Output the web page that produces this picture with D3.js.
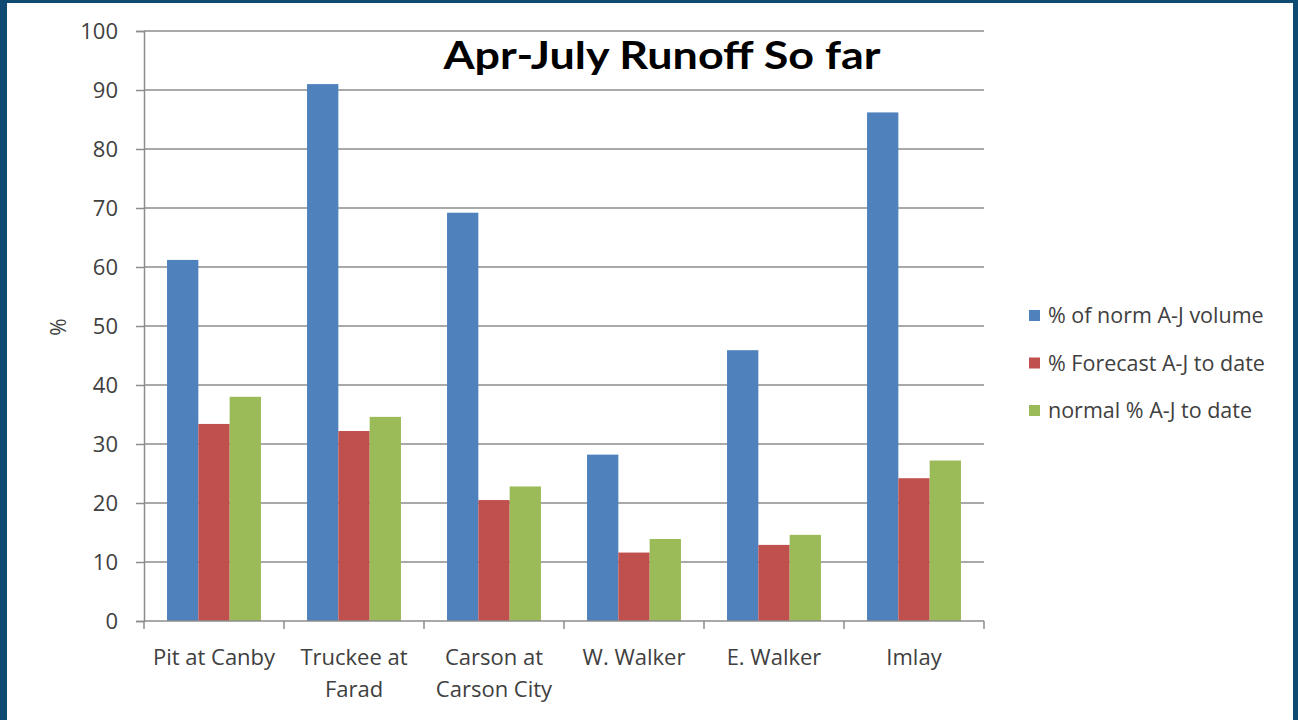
<!DOCTYPE html>
<html lang="en">
<head>
    <meta charset="UTF-8">
    <title>Apr-July Runoff So far</title>
    <script src="https://d3js.org/d3.v7.min.js"></script>
    <style>
        html, body {
            margin: 0;
            padding: 0;
            overflow: hidden;
            background: #0f4a73;
        }
        #frame {
            position: absolute;
            left: 7px;
            top: 3px;
            width: 1286px;
            height: 717px;
            background: #ffffff;
        }
        svg text {
            font-family: "Open Sans", "DejaVu Sans", sans-serif;
            fill: #404040;
        }
    </style>
</head>
<body>
    <div id="frame"></div>
    <svg id="chart" width="1298" height="720" style="position:absolute;left:0;top:0"></svg>

    <script>
        // station names (line breaks as in the original)
        const stations = [
            ["Pit at Canby"],
            ["Truckee at", "Farad"],
            ["Carson at", "Carson City"],
            ["W. Walker"],
            ["E. Walker"],
            ["Imlay"]
        ];
        const seriesNames = ["% of norm A-J volume", "% Forecast A-J to date", "normal % A-J to date"];
        const normVolume = [61.2, 91.0, 69.2, 28.2, 45.9, 86.2];
        const forecastToDate = [33.4, 32.2, 20.5, 11.6, 12.9, 24.2];
        const normalToDate = [38.0, 34.6, 22.8, 13.9, 14.6, 27.2];
        const yTicks = [0, 10, 20, 30, 40, 50, 60, 70, 80, 90, 100];
        const colors = ["#4f81bd", "#c0504d", "#9bbb59"];

        const series = [normVolume, forecastToDate, normalToDate];
        const svg = d3.select("#chart");
        const margin = {left: 144, top: 31, right: 314, bottom: 99};
        const width = 1298 - margin.left - margin.right,
              height = 720 - margin.top - margin.bottom;
        const g = svg.append("g").attr("transform", `translate(${margin.left},${margin.top})`);

        const x = d3.scaleBand().domain(d3.range(stations.length)).range([0, width]);
        const barW = x.bandwidth() * 0.2236;
        const inner = d3.scaleBand().domain(d3.range(series.length))
            .range([(x.bandwidth() - barW * 3) / 2, (x.bandwidth() + barW * 3) / 2]);
        const y = d3.scaleLinear().domain([0, 100]).range([height, 0]);

        // gridlines
        g.append("g").selectAll("line")
            .data(yTicks.filter(d => d > 0))
            .enter().append("line")
            .attr("x1", 0).attr("x2", width)
            .attr("y1", d => y(d)).attr("y2", d => y(d))
            .attr("stroke", "#8c8c8c").attr("stroke-width", 1.5);

        // bars
        series.forEach((vals, si) => {
            g.append("g").selectAll("rect")
                .data(vals)
                .enter().append("rect")
                .attr("x", (d, i) => x(i) + inner(si))
                .attr("width", inner.bandwidth())
                .attr("y", d => y(d))
                .attr("height", d => height - y(d))
                .attr("fill", colors[si]);
        });

        // y axis
        const yAxis = g.append("g")
            .call(d3.axisLeft(y).tickValues(yTicks).tickSize(8).tickPadding(18).tickFormat(d3.format("d")));
        yAxis.selectAll("path, line").attr("stroke", "#8c8c8c").attr("stroke-width", 1.5);
        yAxis.selectAll("text").style("font-size", "22px").style("font-family", null).attr("fill", "#404040");

        // x axis
        const xAxis = g.append("g").attr("transform", `translate(0,${height})`);
        xAxis.append("line").attr("x1", 0).attr("x2", width)
            .attr("stroke", "#8c8c8c").attr("stroke-width", 1.5);
        xAxis.selectAll(".tk")
            .data(d3.range(stations.length + 1))
            .enter().append("line")
            .attr("x1", d => d * x.step()).attr("x2", d => d * x.step())
            .attr("y1", 0).attr("y2", 8)
            .attr("stroke", "#8c8c8c").attr("stroke-width", 1.5);
        const lbl = xAxis.selectAll(".lbl")
            .data(stations)
            .enter().append("text")
            .attr("text-anchor", "middle")
            .attr("transform", (d, i) => `translate(${x(i) + x.bandwidth() / 2},44)`)
            .style("font-size", "22px");
        lbl.selectAll("tspan")
            .data(d => d)
            .enter().append("tspan")
            .attr("x", 0)
            .attr("dy", (d, i) => i === 0 ? 0 : 32)
            .text(d => d);

        // y label
        svg.append("text")
            .attr("transform", "translate(66,327) rotate(-90)")
            .attr("text-anchor", "middle")
            .style("font-size", "21px")
            .text("%");

        // title
        svg.append("text")
            .attr("x", 662).attr("y", 69)
            .attr("text-anchor", "middle")
            .attr("textLength", 437)
            .attr("lengthAdjust", "spacingAndGlyphs")
            .style("font-family", "Lato, 'Open Sans', sans-serif")
            .style("font-weight", "bold")
            .style("font-size", "38px")
            .style("fill", "#000")
            .text("Apr-July Runoff So far");

        // legend
        const legend = svg.append("g").attr("transform", "translate(1029,315)");
        const li = legend.selectAll("g")
            .data(seriesNames)
            .enter().append("g")
            .attr("transform", (d, i) => `translate(0,${i * 47.5})`);
        li.append("rect")
            .attr("x", 0).attr("y", -5).attr("width", 11).attr("height", 11)
            .attr("fill", (d, i) => colors[i]);
        li.append("text")
            .attr("x", 19).attr("y", 8)
            .style("font-size", "21.5px")
            .text(d => d);
    </script>
</body>
</html>
